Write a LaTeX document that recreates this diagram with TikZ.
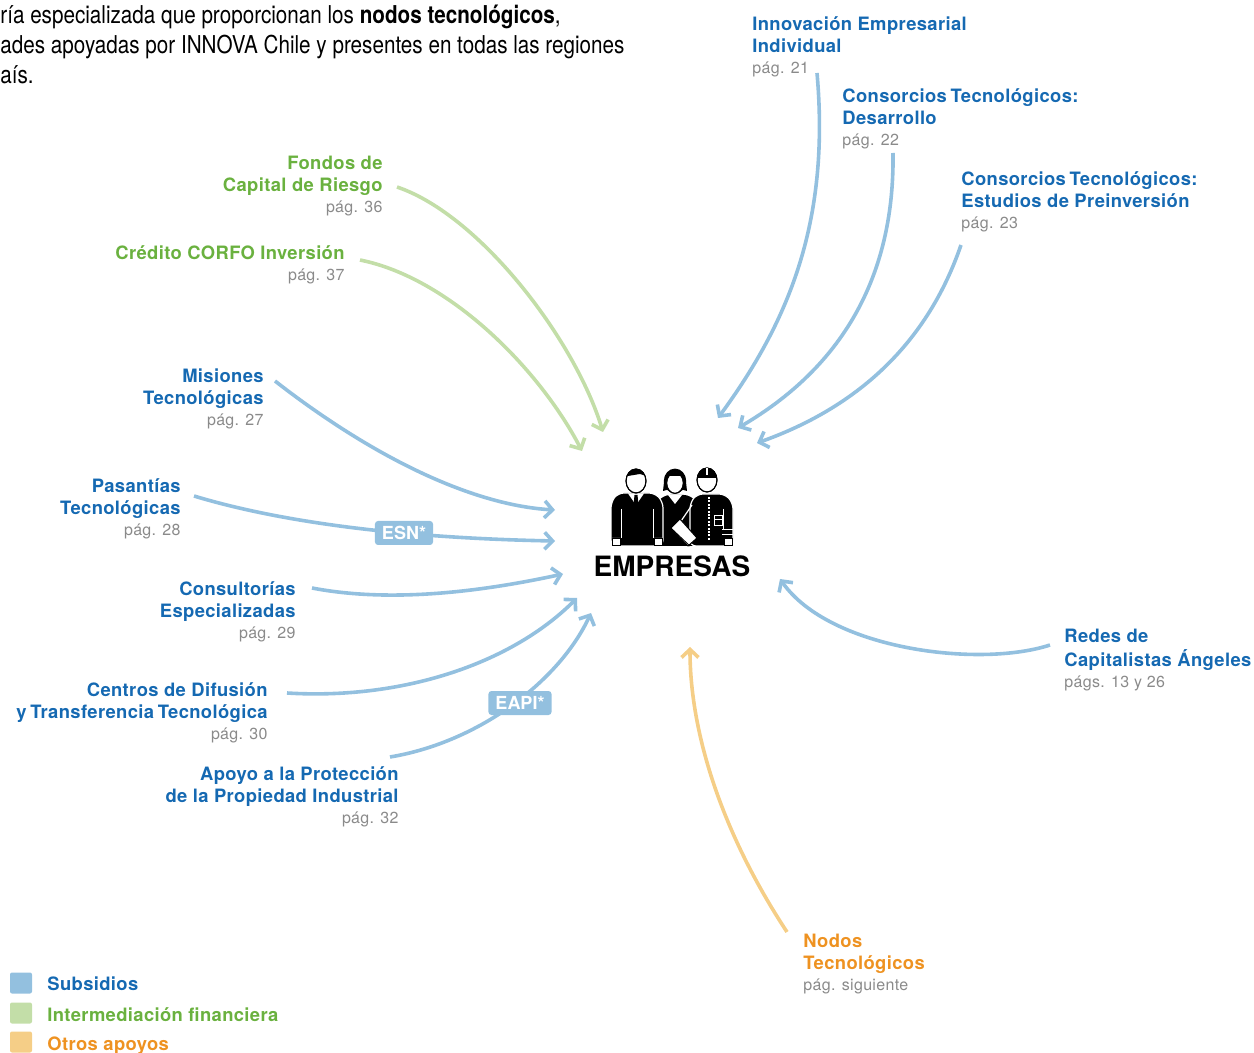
\documentclass[tikz,border=0pt]{standalone}
\usepackage{fontspec}
\setmainfont{TeX Gyre Heros}
\newfontfamily\lblfamily[LetterSpace=2.0]{TeX Gyre Heros}
\newfontfamily\condfamily[FakeStretch=0.84]{TeX Gyre Heros}
\usetikzlibrary{arrows.meta}
\definecolor{cblueT}{RGB}{21,105,178}
\definecolor{cblueL}{RGB}{147,192,223}
\definecolor{cgreenT}{RGB}{106,177,63}
\definecolor{cgreenL}{RGB}{195,222,168}
\definecolor{corangeT}{RGB}{238,146,33}
\definecolor{corangeL}{RGB}{245,206,135}
\definecolor{cgray}{RGB}{138,138,138}
\newcommand\lbfont{\lblfamily\bfseries\fontsize{9.2}{11}\selectfont}
\newcommand\pagtxt{\mdseries\fontsize{8}{10}\selectfont\color{cgray}}
\newcommand\tsp{\hspace{0.2em}}
\newcommand\stackR[2]{\begin{tabular}[t]{@{}r@{}}#1\\[-0.5pt]{\pagtxt #2}\end{tabular}}
\newcommand\stackL[2]{\begin{tabular}[t]{@{}l@{}}#1\\[-0.5pt]{\pagtxt #2}\end{tabular}}
\tikzset{
  lR/.style={anchor=base east, inner sep=0pt, font=\lbfont},
  lL/.style={anchor=base west, inner sep=0pt, font=\lbfont},
  arr/.style={line width=1.8pt, -{Straight Barb[length=4pt,width=8.5pt]}},
  barr/.style={arr, draw=cblueL},
  garr/.style={arr, draw=cgreenL},
  oarr/.style={arr, draw=corangeL},
  tagbox/.style={fill=cblueL, text=white, font=\bfseries\fontsize{9}{10}\selectfont,
    rounded corners=1.5pt, inner xsep=3.5pt, inner ysep=0pt, minimum height=12pt},
  legsq/.style={minimum width=11pt, minimum height=10.5pt, inner sep=0pt, rounded corners=1pt},
  legtx/.style={anchor=base west, inner sep=0pt, font=\lbfont},
}
\begin{document}
\begin{tikzpicture}[x=0.5pt,y=-0.5pt]
\useasboundingbox (0,0) rectangle (1254,1053);

% top text
\node[anchor=base west, inner sep=0pt, font=\condfamily\fontsize{12.3}{15}\selectfont] (intro) at (0,24)
 {\begin{tabular}[t]{@{}l@{}}ría especializada que proporcionan los \textbf{nodos tecnológicos},\\
  ades apoyadas por INNOVA Chile y presentes en todas las regiones\\
  aís.\end{tabular}};

% labels left
\node[lR, text=cgreenT] (fondos) at (383,170) {\stackR{Fondos de\\Capital de Riesgo}{pág. 36}};
\node[lR, text=cgreenT] (credito) at (345,260) {\stackR{Crédito CORFO Inversión}{pág. 37}};
\node[lR, text=cblueT] (misiones) at (264,383) {\stackR{Misiones\\Tecnológicas}{pág. 27}};
\node[lR, text=cblueT] (pasant) at (181,493) {\stackR{Pasantías\\Tecnológicas}{pág. 28}};
\node[lR, text=cblueT] (consult) at (296,596) {\stackR{Consultorías\\Especializadas}{pág. 29}};
\node[lR, text=cblueT] (centros) at (268,697) {\stackR{Centros de Difusión\\y\tsp Transferencia\tsp Tecnológica}{pág. 30}};
\node[lR, text=cblueT] (apoyo) at (399,780) {\stackR{Apoyo a la Protección\\de la Propiedad Industrial}{pág. 32}};
% labels right
\node[lL, text=cblueT] (innov) at (752,31) {\stackL{Innovación Empresarial\\Individual}{pág. 21}};
\node[lL, text=cblueT] (desarr) at (842,103) {\stackL{Consorcios\tsp Tecnológicos:\\Desarrollo}{pág. 22}};
\node[lL, text=cblueT] (estud) at (961,186) {\stackL{Consorcios\tsp Tecnológicos:\\Estudios de Preinversión}{pág. 23}};
\node[lL, text=cblueT] (redes) at (1064,643) {\stackL{Redes de\\Capitalistas Ángeles}{págs. 13 y 26}};
\node[lL, text=corangeT] (nodos) at (803,947) {\stackL{Nodos\\Tecnológicos}{pág. siguiente}};

% center
\node[inner sep=0pt, font=\bfseries\fontsize{14}{16}\selectfont] (emp) at (672,566) {EMPRESAS};

% icon
\begin{scope}
 % woman
 \fill[black, rounded corners=3pt] (657,546) -- (657,503) -- (664,495) -- (690,495) -- (697,503) -- (697,546) -- cycle;
 \fill[white] (668,495) -- (675,504) -- (682,495) -- cycle;
 \fill[black] (675,481) ellipse [x radius=5.6pt, y radius=6.2pt];
 \fill[black] (664,482) -- (663,491) -- (670,489) -- cycle;
 \fill[black] (686,482) -- (687,491) -- (680,489) -- cycle;
 \draw[fill=white, line width=0.5pt] (675,483) ellipse [x radius=4.2pt, y radius=5.2pt];
 \begin{scope}
  \clip (675,483) ellipse [x radius=4.2pt, y radius=5.2pt];
  \fill[black] (660,465) rectangle (690,476);
 \end{scope}
 \draw[line width=0.5pt] (675,483) ellipse [x radius=4.2pt, y radius=5.2pt];
 % man
 \fill[black, draw=white, line width=0.6pt, rounded corners=3pt] (611,546) -- (611,502) -- (618,493) -- (655,493) -- (663,502) -- (663,546) -- cycle;
 \draw[white, line width=0.5pt] (621,509) -- (621,538) (653,509) -- (653,538);
 \fill[white] (628,493.5) -- (636,505) -- (644,493.5) -- cycle;
 \fill[black] (634.5,495) -- (637.5,495) -- (638.5,505) -- (636,510) -- (633.5,505) -- cycle;
 \draw[fill=white, line width=0.4pt] (612,538) rectangle (620,545.5) (654,538) rectangle (662,545.5);
 \draw[fill=white, line width=0.5pt] (636,481) ellipse [x radius=5pt, y radius=6pt];
 \begin{scope}
  \clip (636,481) ellipse [x radius=5pt, y radius=6pt];
  \fill[black] (620,460) -- (652,460) -- (652,478) -- (640,474) -- (622,477) -- cycle;
 \end{scope}
 \draw[line width=0.5pt] (636,481) ellipse [x radius=5pt, y radius=6pt];
 % worker
 \fill[black, draw=white, line width=0.6pt, rounded corners=3pt] (690,546) -- (690,503) -- (697,494) -- (725,494) -- (733,503) -- (733,546) -- cycle;
 \draw[white, line width=0.6pt, dash pattern=on 1pt off 0.7pt] (709,497) -- (709,541);
 \draw[white, line width=0.5pt] (714,516) rectangle (722,526) (714,519.5) -- (722,519.5);
 \draw[white, line width=0.5pt] (723,509) -- (723,529) (722,530) -- (733,530) (722,535) -- (733,535);
 \draw[fill=white, line width=0.4pt] (724,538) rectangle (732,545.5);
 \draw[fill=white, line width=0.5pt] (707,480) ellipse [x radius=5pt, y radius=6pt];
 \begin{scope}
  \clip (707,480) ellipse [x radius=5pt, y radius=6pt];
  \fill[black] (690,460) rectangle (724,476);
 \end{scope}
 \draw[line width=0.5pt] (707,480) ellipse [x radius=5pt, y radius=6pt];
 \draw[white, line width=0.6pt] (707,468) -- (707,475);
 \draw[line width=1pt] (697,477) -- (717,477);
 % folder and arm
 \draw[white, line width=0.6pt] (692,505) -- (679,524);
 \draw[fill=white, line width=0.5pt] (671,528) -- (680,519) -- (697,538) -- (688,546) -- cycle;
 \draw[line width=0.4pt] (674,531) -- (690,546);
\end{scope}

% connectors
\coordinate (tgtA) at (603,432);
\coordinate (tgtB) at (582,451);
\coordinate (tgtC) at (555,510);
\coordinate (tgtD) at (555,541);
\coordinate (tgtE) at (563,574);
\coordinate (tgtF) at (577,598);
\coordinate (tgtG) at (591,613);
\coordinate (tgtH) at (718,418);
\coordinate (tgtI) at (738,428);
\coordinate (tgtJ) at (757,443);
\coordinate (tgtK) at (780,579);
\coordinate (tgtL) at (690,647);
\coordinate (srcA) at (397,187);
\coordinate (srcB) at (360,260);
\coordinate (srcC) at (275,381);
\coordinate (srcD) at (194,496);
\coordinate (srcE) at (312,588);
\coordinate (srcF) at (287,693);
\coordinate (srcG) at (390,757);
\coordinate (srcH) at (817,73);
\coordinate (srcI) at (893,153);
\coordinate (srcJ) at (961,245);
\coordinate (srcK) at (1050,645);
\coordinate (srcL) at (787,932);

\draw[garr] (srcA) .. controls (480,215) and (575,340) .. (tgtA);
\draw[garr] (srcB) .. controls (450,278) and (540,370) .. (tgtB);
\draw[barr] (srcC) .. controls (370,455) and (470,505) .. (tgtC);
\draw[barr] (srcD) .. controls (280,522) and (400,538) .. (tgtD);
\draw[barr] (srcE) .. controls (390,603) and (480,592) .. (tgtE);
\draw[barr] (srcF) .. controls (400,700) and (510,665) .. (tgtF);
\draw[barr] (srcG) .. controls (480,742) and (560,680) .. (tgtG);
\draw[barr] (srcH) .. controls (830,220) and (790,320) .. (tgtH);
\draw[barr] (srcI) .. controls (895,300) and (820,380) .. (tgtI);
\draw[barr] (srcJ) .. controls (925,350) and (850,410) .. (tgtJ);
\draw[barr] (srcK) .. controls (980,668) and (830,650) .. (tgtK);
\draw[oarr] (srcL) .. controls (720,830) and (690,730) .. (tgtL);

\node[tagbox] (esn) at (404,533) {ESN*};
\node[tagbox] (eapi) at (520,703) {EAPI*};

% legend
\node[legsq, fill=cblueL] (sq1) at (21,983) {};
\node[legsq, fill=cgreenL] (sq2) at (21,1013) {};
\node[legsq, fill=corangeL] (sq3) at (21,1042) {};
\node[legtx, text=cblueT] (lg1) at (47,990) {Subsidios};
\node[legtx, text=cgreenT] (lg2) at (47,1021) {Intermediación financiera};
\node[legtx, text=corangeT] (lg3) at (47,1050) {Otros apoyos};
\end{tikzpicture}
\end{document}
